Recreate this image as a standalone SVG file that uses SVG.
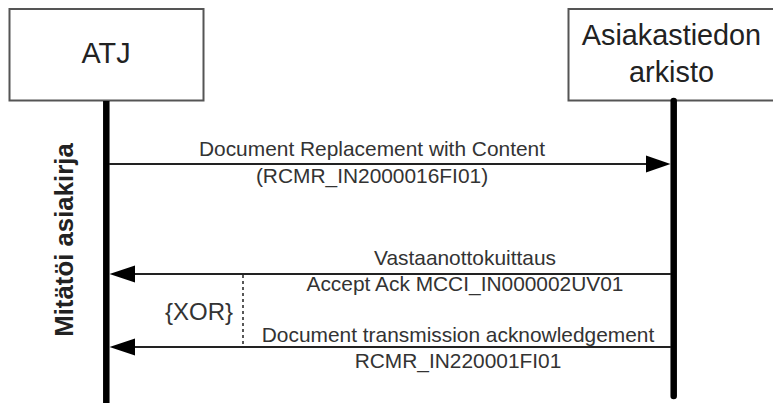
<svg xmlns="http://www.w3.org/2000/svg" width="773" height="403" viewBox="0 0 773 403">
<style>
.box{fill:#fff;stroke:#555;stroke-width:2}
.life{stroke:#000;stroke-width:6.5}
.msg{stroke:#222;stroke-width:2;fill:none}
.head{fill:#000}
.nl{font-family:"Liberation Sans",Arial,sans-serif;font-size:28.8px;fill:#222;text-anchor:middle}
.ml{font-family:"Liberation Sans",Arial,sans-serif;font-size:20.9px;fill:#333;text-anchor:middle}
.xor{font-family:"Liberation Sans",Arial,sans-serif;font-size:24px;fill:#333;text-anchor:middle}
.side{font-family:"Liberation Sans",Arial,sans-serif;font-size:25.8px;font-weight:bold;fill:#222;text-anchor:middle}
</style>
<rect width="773" height="403" fill="#fff"/>
<g id="atj">
<rect class="box" x="9.5" y="9" width="194" height="91.5"/>
<text class="nl" x="106" y="63">ATJ</text>
<line class="life" x1="106.3" y1="101" x2="106.3" y2="403"/>
</g>
<g id="arkisto">
<rect class="box" x="568.5" y="9" width="210" height="91.5"/>
<text class="nl" x="671.5" y="45">Asiakastiedon</text>
<text class="nl" x="671.5" y="82">arkisto</text>
<line class="life" x1="673.7" y1="101" x2="673.7" y2="396" stroke-linecap="round"/>
</g>
<g id="side-label">
<text class="side" transform="translate(73,240) rotate(-90)">Mitätöi asiakirja</text>
</g>
<g id="connectors">
<line class="msg" x1="109" y1="164" x2="650" y2="164"/>
<polygon class="head" points="670.5,164 646,155.5 646,172.5"/>
<text class="ml" x="372" y="155.5">Document Replacement with Content</text>
<text class="ml" x="372" y="183">(RCMR_IN2000016FI01)</text>

<line class="msg" x1="130" y1="274" x2="671" y2="274"/>
<polygon class="head" points="109.5,274 135,265.5 135,282.5"/>
<text class="ml" x="465" y="265">Vastaanottokuittaus</text>
<text class="ml" x="465" y="291">Accept Ack MCCI_IN000002UV01</text>

<line class="msg" x1="130" y1="347" x2="671" y2="347"/>
<polygon class="head" points="109.5,347 135,338.5 135,355.5"/>
<text class="ml" x="458" y="342">Document transmission acknowledgement</text>
<text class="ml" x="458" y="367.5">RCMR_IN220001FI01</text>

<line x1="243" y1="275" x2="243" y2="346" stroke="#222" stroke-width="1.5" stroke-dasharray="3,3"/>
<text class="xor" x="199" y="320">{XOR}</text>
</g>
</svg>
